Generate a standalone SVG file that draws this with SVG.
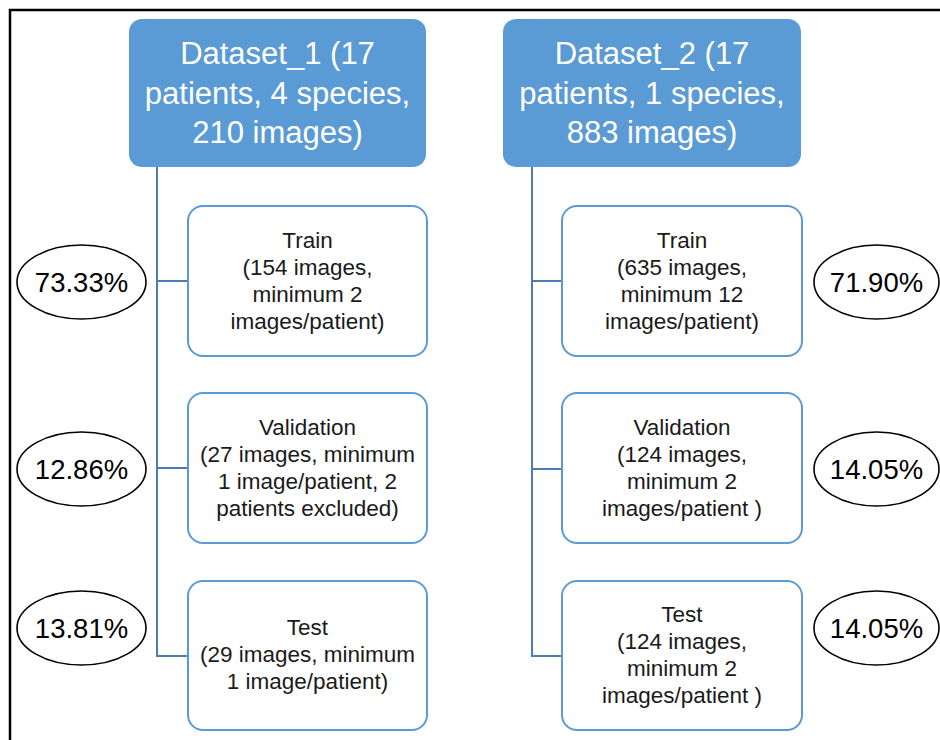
<svg xmlns="http://www.w3.org/2000/svg" width="940" height="740" viewBox="0 0 940 740">
<style>
.hdr{fill:#5B9BD5;}
.hdrt{font-family:"Liberation Sans",Arial,sans-serif;font-size:31px;fill:#ffffff;text-anchor:middle;}
.box{fill:#ffffff;stroke:#5B9BD5;stroke-width:2;}
.bt{font-family:"Liberation Sans",Arial,sans-serif;font-size:22.5px;fill:#1a1a1a;text-anchor:middle;}
.ell{fill:#ffffff;stroke:#000000;stroke-width:1.6;}
.pt{font-family:"Liberation Sans",Arial,sans-serif;font-size:27.5px;fill:#000000;text-anchor:middle;}
.conn{fill:none;stroke:#4A7DB5;stroke-width:2;}
</style>
<rect x="0" y="0" width="940" height="740" fill="#ffffff"/>
<path d="M10,740 V10 H940" fill="none" stroke="#000000" stroke-width="2.5"/>
<g id="connectors">
<path class="conn" d="M157,167 V656 H188"/>
<path class="conn" d="M157,281 H188"/>
<path class="conn" d="M157,468 H188"/>
<path class="conn" d="M532,167 V656 H562"/>
<path class="conn" d="M532,281 H562"/>
<path class="conn" d="M532,469 H562"/>
</g>
<g id="dataset1">
<rect class="hdr" x="129" y="19" width="297" height="148" rx="13"/>
<text class="hdrt" x="277.5" y="64">Dataset_1 (17</text>
<text class="hdrt" x="277.5" y="103.5">patients, 4 species,</text>
<text class="hdrt" x="277.5" y="143">210 images)</text>
</g>
<g id="dataset2">
<rect class="hdr" x="503" y="19" width="298" height="148" rx="13"/>
<text class="hdrt" x="652" y="64">Dataset_2 (17</text>
<text class="hdrt" x="652" y="103.5">patients, 1 species,</text>
<text class="hdrt" x="652" y="143">883 images)</text>
</g>
<g id="train1">
<rect class="box" x="188" y="206" width="239" height="150" rx="15"/>
<text class="bt" x="307.5" y="248">Train</text>
<text class="bt" x="307.5" y="275">(154 images,</text>
<text class="bt" x="307.5" y="302">minimum 2</text>
<text class="bt" x="307.5" y="329">images/patient)</text>
</g>
<g id="val1">
<rect class="box" x="188" y="393" width="239" height="150" rx="15"/>
<text class="bt" x="307.5" y="435">Validation</text>
<text class="bt" x="307.5" y="462">(27 images, minimum</text>
<text class="bt" x="307.5" y="489">1 image/patient, 2</text>
<text class="bt" x="307.5" y="516">patients excluded)</text>
</g>
<g id="test1">
<rect class="box" x="188" y="581" width="239" height="149" rx="15"/>
<text class="bt" x="307.5" y="635">Test</text>
<text class="bt" x="307.5" y="662">(29 images, minimum</text>
<text class="bt" x="307.5" y="689">1 image/patient)</text>
</g>
<g id="train2">
<rect class="box" x="562" y="206" width="240" height="150" rx="15"/>
<text class="bt" x="682" y="248">Train</text>
<text class="bt" x="682" y="275">(635 images,</text>
<text class="bt" x="682" y="302">minimum 12</text>
<text class="bt" x="682" y="329">images/patient)</text>
</g>
<g id="val2">
<rect class="box" x="562" y="393" width="240" height="150" rx="15"/>
<text class="bt" x="682" y="435">Validation</text>
<text class="bt" x="682" y="462">(124 images,</text>
<text class="bt" x="682" y="489">minimum 2</text>
<text class="bt" x="682" y="516">images/patient )</text>
</g>
<g id="test2">
<rect class="box" x="562" y="581" width="240" height="149" rx="15"/>
<text class="bt" x="682" y="622">Test</text>
<text class="bt" x="682" y="649">(124 images,</text>
<text class="bt" x="682" y="676">minimum 2</text>
<text class="bt" x="682" y="703">images/patient )</text>
</g>
<g id="pct1a"><ellipse class="ell" cx="81.5" cy="282" rx="64.5" ry="37"/><text class="pt" x="81.5" y="292">73.33%</text></g>
<g id="pct1b"><ellipse class="ell" cx="81.5" cy="469" rx="64.5" ry="37"/><text class="pt" x="81.5" y="479">12.86%</text></g>
<g id="pct1c"><ellipse class="ell" cx="81.5" cy="628" rx="64.5" ry="37"/><text class="pt" x="81.5" y="638">13.81%</text></g>
<g id="pct2a"><ellipse class="ell" cx="876.5" cy="282" rx="62.5" ry="37"/><text class="pt" x="876.5" y="292">71.90%</text></g>
<g id="pct2b"><ellipse class="ell" cx="876.5" cy="469" rx="62.5" ry="37"/><text class="pt" x="876.5" y="479">14.05%</text></g>
<g id="pct2c"><ellipse class="ell" cx="876.5" cy="628" rx="62.5" ry="37"/><text class="pt" x="876.5" y="638">14.05%</text></g>
</svg>
